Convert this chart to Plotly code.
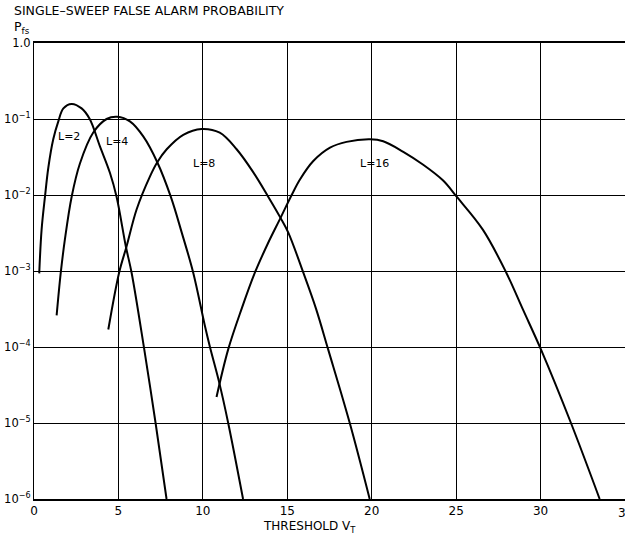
import plotly.graph_objects as go
import math

# Threshold V_T and single-sweep false alarm probability P_fs, per L
L2_x = [0.31, 0.45, 0.65, 0.85, 1.14, 1.44, 1.74, 2.23, 2.82, 3.3, 3.9, 4.5, 4.89, 5.44, 5.78, 6.53, 7.2, 7.85]
L2_y = [9.3e-4, 3.5e-3, 9.5e-3, 2.3e-2, 5.4e-2, 9.3e-2, 0.138, 0.158, 0.138, 0.10, 4.4e-2, 1.95e-2,
        9.5e-3, 2.1e-3, 9.5e-4, 9.3e-5, 1e-5, 1e-6]

L4_x = [1.34, 1.58, 1.83, 2.23, 2.72, 3.5, 4.3, 4.93, 5.68, 6.47, 7.3, 8.1, 8.75, 9.43, 10.12,
        10.42, 10.97, 11.5, 12.38]
L4_y = [2.6e-4, 9.3e-4, 2.6e-3, 9.5e-3, 2.6e-2, 6.6e-2, 0.10, 0.107, 9.3e-2, 5.9e-2, 2.7e-2, 9.5e-3,
        3.2e-3, 9.5e-4, 1.9e-4, 1e-4, 3.4e-5, 1e-5, 1e-6]

L8_x = [4.4, 5.04, 5.48, 6.08, 6.87, 7.3, 7.86, 8.84, 9.93, 11.0, 12.0, 12.98, 13.87, 14.6, 15.06, 15.95,
        16.7, 17.42, 18.7, 19.88]
L8_y = [1.7e-4, 9.5e-4, 2.1e-3, 6.5e-3, 1.76e-2, 2.7e-2, 4.0e-2, 6.2e-2, 7.4e-2, 6.6e-2, 4.0e-2, 2.0e-2,
        9.5e-3, 5.0e-3, 3.2e-3, 9.5e-4, 3.2e-4, 9.3e-5, 1e-5, 1e-6]

L16_x = [10.81, 11.5, 12.3, 13.08, 13.85, 14.6, 15.26, 15.75, 16.54, 17.53, 18.51, 19.9, 20.68, 21.87,
         23.05, 24.23, 25.03, 26.58, 27.97, 28.96, 30.04, 31.8, 33.5]
L16_y = [2.2e-5, 9.3e-5, 3.2e-4, 9.5e-4, 2.3e-3, 5.0e-3, 1.0e-2, 1.6e-2, 2.8e-2, 4.2e-2, 5.0e-2, 5.4e-2,
         5.1e-2, 3.7e-2, 2.5e-2, 1.55e-2, 9.5e-3, 3.5e-3, 9.5e-4, 3.1e-4, 9.1e-5, 1e-5, 1e-6]

curve_labels = ["L=2", "L=4", "L=8", "L=16"]
label_x = [2.1, 4.9, 10.04, 20.16]
label_y = [0.059, 0.051, 0.026, 0.026]

y_tickvals = [1e-6, 1e-5, 1e-4, 1e-3, 1e-2, 1e-1, 1.0]
y_ticktext = ["10<sup>−6</sup>", "10<sup>−5</sup>", "10<sup>−4</sup>", "10<sup>−3</sup>",
              "10<sup>−2</sup>", "10<sup>−1</sup>", "1.0"]
x_tickvals = [0, 5, 10, 15, 20, 25, 30, 35]

FONT = "DejaVu Sans, Liberation Sans, Arial, sans-serif"

fig = go.Figure()
for xs, ys, name in [(L2_x, L2_y, "L=2"), (L4_x, L4_y, "L=4"), (L8_x, L8_y, "L=8"), (L16_x, L16_y, "L=16")]:
    fig.add_trace(go.Scatter(x=xs, y=ys, mode="lines", name=name,
                             line=dict(color="black", width=2, shape="spline", smoothing=1.0),
                             showlegend=False, hoverinfo="skip"))

for t, lx, ly in zip(curve_labels, label_x, label_y):
    fig.add_annotation(x=lx, y=math.log10(ly), xref="x", yref="y", text=t, showarrow=False,
                       font=dict(family=FONT, size=11, color="black"))

fig.add_annotation(x=-0.037, y=1.071, xref="paper", yref="paper", xanchor="left", yanchor="middle",
                   text="SINGLE–SWEEP FALSE ALARM PROBABILITY", showarrow=False,
                   font=dict(family=FONT, size=12.5, color="black"))
fig.add_annotation(x=-0.037, y=1.034, xref="paper", yref="paper", xanchor="left", yanchor="middle",
                   text="P<sub>fs</sub>", showarrow=False,
                   font=dict(family=FONT, size=12.5, color="black"))
fig.add_annotation(x=0.467, y=-0.062, xref="paper", yref="paper", xanchor="center", yanchor="middle",
                   text="THRESHOLD V<sub>T</sub>", showarrow=False,
                   font=dict(family=FONT, size=12, color="black"))
fig.add_annotation(x=35, y=-0.03, xref="x", yref="paper", xanchor="center", yanchor="middle",
                   text="35", showarrow=False,
                   font=dict(family=FONT, size=12, color="black"))

fig.update_layout(
    width=625, height=544,
    margin=dict(l=34, r=0, t=43, b=45),
    paper_bgcolor="white", plot_bgcolor="white",
    font=dict(family=FONT, size=12, color="black"),
    xaxis=dict(range=[0, 35], tickvals=x_tickvals, ticks="", showgrid=True,
               gridcolor="black", gridwidth=1.3, zeroline=False,
               showline=True, linecolor="black", linewidth=1.5, mirror=True,
               tickfont=dict(family=FONT, size=12, color="black")),
    yaxis=dict(type="log", range=[-6, 0], tickvals=y_tickvals, ticktext=y_ticktext,
               ticks="", showgrid=True, gridcolor="black", gridwidth=1.3, zeroline=False,
               showline=True, linecolor="black", linewidth=1.2,
               tickfont=dict(family=FONT, size=11.5, color="black")),
)

fig.write_html("out.html")
